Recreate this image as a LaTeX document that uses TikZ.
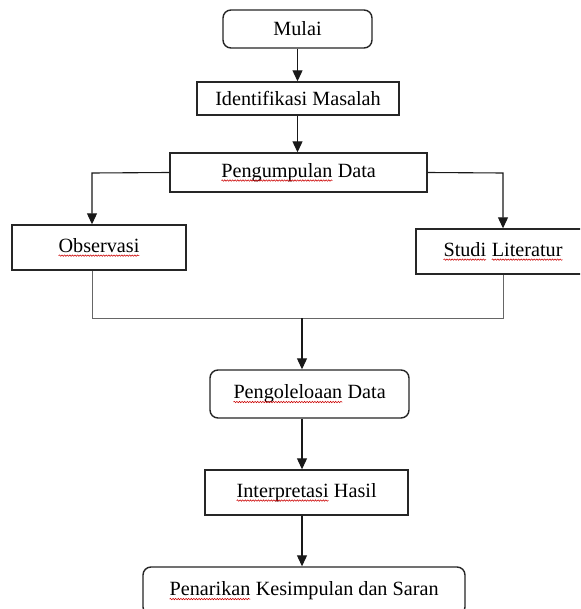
\documentclass[tikz,border=0pt]{standalone}
\usepackage{fontspec}
\setmainfont{Liberation Serif}
\usetikzlibrary{arrows.meta,decorations.pathmorphing}
\newcommand\sqw[1]{\tikz[baseline=(w.base),x=1cm,y=1cm,sharp corners]{\node[inner sep=0pt,outer sep=0pt,draw=none,rectangle,minimum width=0pt,minimum height=0pt](w){#1};%
  \draw[red!80!black,line width=0.55pt,sharp corners,decorate,decoration={snake,amplitude=0.7pt,segment length=2.6pt}]%
  ([yshift=-3.2pt]w.base west) -- ([yshift=-3.2pt]w.base east);}}
\tikzset{
  box/.style={draw=black!85, line width=1.4pt, rectangle, inner sep=0pt,
    font=\fontsize{20.2}{24}\selectfont},
  rbox/.style={box, rounded corners=8pt},
  conn/.style={draw=black!90, line width=1.1pt},
  arr/.style={conn, -{Triangle[width=10pt,length=11pt]}},
  merge/.style={draw=black!60, line width=1pt}
}
\begin{document}
\begin{tikzpicture}[x=1pt,y=-1pt]
\useasboundingbox (0,0) rectangle (580,609);
\clip (0,0) rectangle (580,609);
\fill[white] (0,0) rectangle (580,609);

\node[rbox, minimum width=149pt, minimum height=38pt] (mulai) at (297.5,29) {Mulai};
\node[box, minimum width=202pt, minimum height=33pt] (ident) at (298,98.5) {Identifikasi Masalah};
\node[box, minimum width=257pt, minimum height=39pt] (kumpul) at (298.5,172.5) {\sqw{Pengumpulan} Data};
\node[box, minimum width=174pt, minimum height=45pt] (obs) at (99,247.5) {\sqw{Observasi}};
\node[box, minimum width=174pt, minimum height=45pt] (studi) at (503,251.5) {\sqw{Studi} \sqw{Literatur}};
\node[rbox, minimum width=199pt, minimum height=48pt] (olah) at (309.5,394) {\sqw{Pengoleloaan} Data};
\node[box, minimum width=203pt, minimum height=45pt] (interp) at (306.5,492.5) {\sqw{Interpretasi} Hasil};
\node[rbox, minimum width=322pt, minimum height=48pt] (tarik) at (304,591) {\sqw{Penarikan} Kesimpulan dan Saran};

\coordinate (bl) at (92,173);
\coordinate (br) at (503,173);
\coordinate (m) at (302,318);

\draw[arr] (mulai.south) -- (mulai.south |- ident.north);
\draw[arr] (mulai.south |- ident.south) -- (mulai.south |- kumpul.north);
\draw[arr] (kumpul.west) -- (bl) -- (bl |- obs.north);
\draw[arr] (kumpul.east) -- (br) -- (studi.north);
\draw[merge] (bl |- obs.south) -- (bl |- m) -- (br |- m) -- (studi.south);
\draw[arr] (m) -- (m |- olah.north);
\draw[arr] (m |- olah.south) -- (m |- interp.north);
\draw[arr] (m |- interp.south) -- (m |- tarik.north);
\end{tikzpicture}
\end{document}
